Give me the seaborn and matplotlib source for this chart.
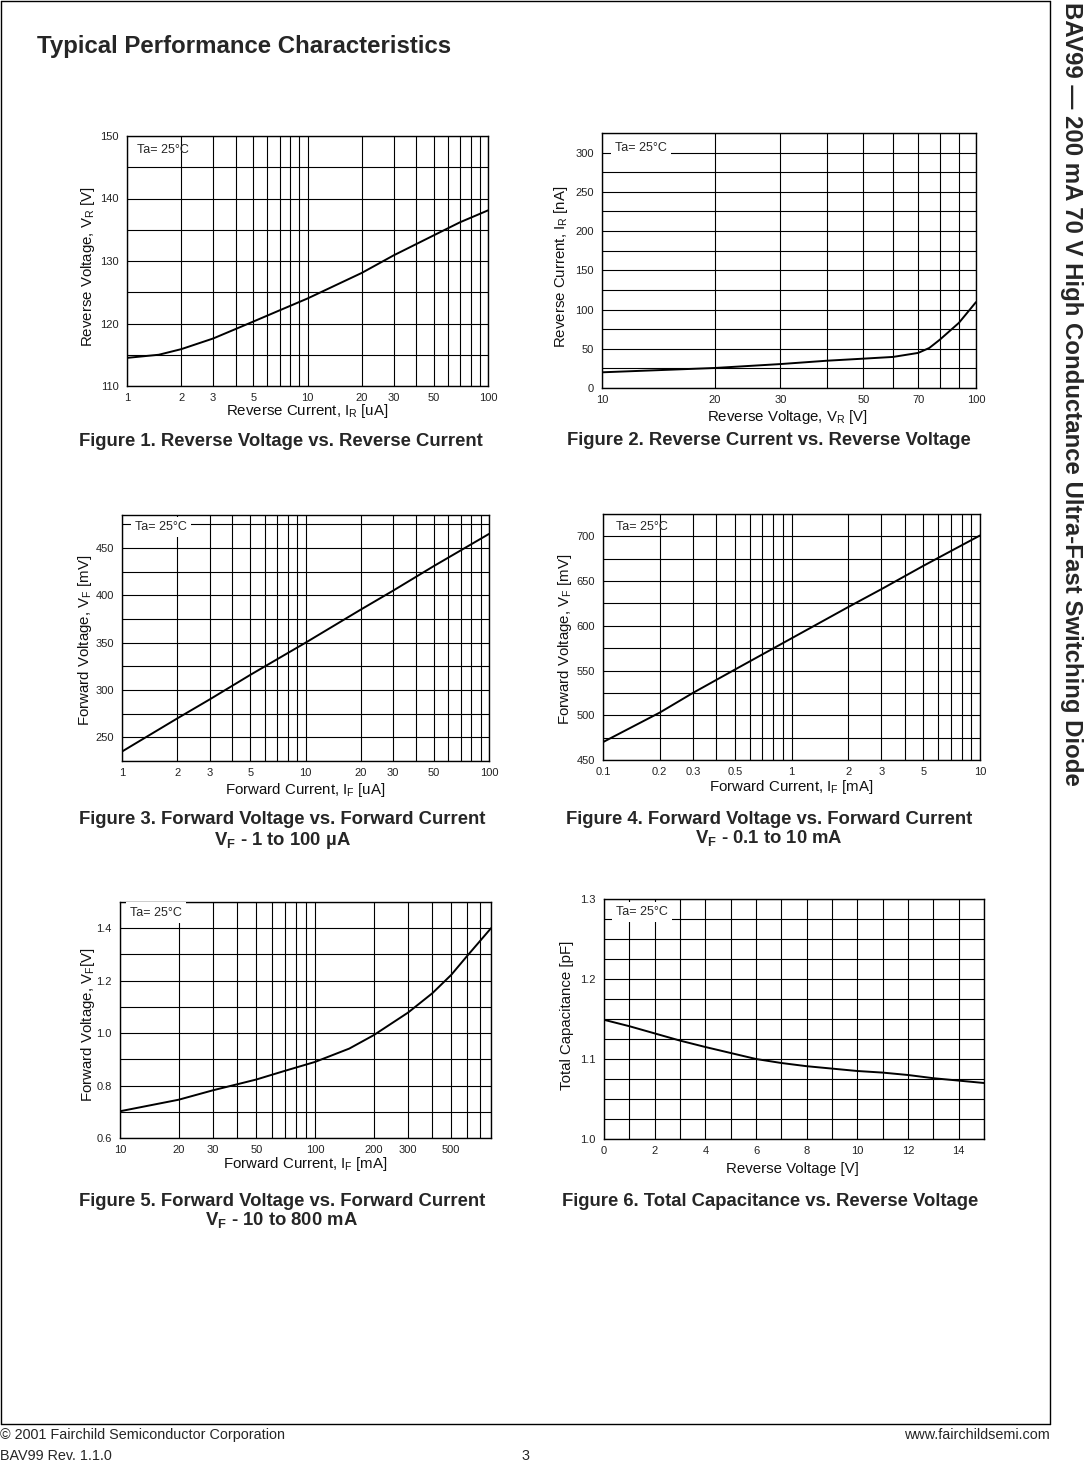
import matplotlib
matplotlib.use("Agg")
import matplotlib.pyplot as plt
import matplotlib.ticker as mticker
from matplotlib.lines import Line2D
import seaborn as sns

# --- data ---
fig1_ir = [1, 1.5, 2, 3, 5, 7, 10, 20, 30, 50, 70, 100]
fig1_vr = [114.5, 115.0, 115.9, 117.6, 120.3, 122.1, 124.0, 128.1, 130.9, 134.1, 136.2, 138.1]

fig2_vr = [10, 20, 30, 40, 50, 60, 70, 75, 80, 90, 100]
fig2_ir = [20, 25.5, 30.5, 34.8, 37.4, 39.6, 44.7, 51, 61.5, 83, 109.5]

fig3_if = [1, 2, 3, 5, 10, 20, 30, 50, 100]
fig3_vf = [235, 270, 290, 316, 350, 385, 405, 431, 465]

fig4_if = [0.1, 0.2, 0.3, 0.5, 1, 2, 3, 5, 10]
fig4_vf = [470, 503, 525, 551, 586, 621, 641, 667, 701]

fig5_if = [10, 20, 30, 40, 50, 70, 100, 150, 200, 300, 400, 500, 600, 800]
fig5_vf = [0.702, 0.746, 0.782, 0.805, 0.823, 0.856, 0.890, 0.941, 0.992,
           1.078, 1.152, 1.222, 1.292, 1.400]

fig6_vr = [0, 1, 2, 3, 4, 5, 6, 7, 8, 9, 10, 11, 12, 13, 14, 15]
fig6_ct = [1.149, 1.141, 1.132, 1.123, 1.115, 1.1075, 1.100, 1.095, 1.091,
           1.088, 1.085, 1.083, 1.080, 1.076, 1.073, 1.070]

# tick labels
fig1_xt = [1, 2, 3, 5, 10, 20, 30, 50, 100]
fig2_xt = [10, 20, 30, 50, 70, 100]
fig3_xt = [1, 2, 3, 5, 10, 20, 30, 50, 100]
fig4_xt = [0.1, 0.2, 0.3, 0.5, 1, 2, 3, 5, 10]
fig5_xt = [10, 20, 30, 50, 100, 200, 300, 500]
fig6_xt = [0, 2, 4, 6, 8, 10, 12, 14]

sns.set_theme(style="white")
plt.rcParams['font.family'] = ['Liberation Sans', 'DejaVu Sans']
plt.rcParams['mathtext.fontset'] = 'custom'
plt.rcParams['mathtext.rm'] = 'Liberation Sans'
plt.rcParams['mathtext.it'] = 'Liberation Sans:italic'
plt.rcParams['mathtext.bf'] = 'Liberation Sans:bold'
plt.rcParams['mathtext.default'] = 'regular'

W, H = 1086, 1462
fig = plt.figure(figsize=(W / 100, H / 100), dpi=100)
fig.patch.set_facecolor('white')


def fx(x):
    return x / W


def fy(y):
    return 1 - y / H


def log_minor(lo, hi):
    out = []
    dec = lo
    while dec < hi:
        out += [m * dec for m in range(1, 10)]
        dec *= 10
    return [v for v in out if lo <= v <= hi]


def panel(box, x, y, log, xlim, ylim, xt, xminor, yt, ystep, yfmt,
          xlabel, ylabel, xl_pos, yl_pos, ta_pos, ta_box):
    l, t, r, b = box
    ax = fig.add_axes([fx(l), fy(b), (r - l) / W, (b - t) / H])
    sns.lineplot(x=x, y=y, ax=ax, color='black', linewidth=1.4,
                 estimator=None, sort=False, zorder=4)
    if log:
        ax.set_xscale('log')
    ax.set_xlim(xlim)
    ax.set_ylim(ylim)
    ax.xaxis.set_major_locator(mticker.FixedLocator(xt))
    ax.xaxis.set_major_formatter(mticker.FixedFormatter([f"{v:g}" for v in xt]))
    ax.xaxis.set_minor_locator(mticker.FixedLocator(xminor))
    ax.xaxis.set_minor_formatter(mticker.NullFormatter())
    ax.yaxis.set_major_locator(mticker.FixedLocator(yt))
    ax.yaxis.set_major_formatter(mticker.FormatStrFormatter(yfmt))
    ax.yaxis.set_minor_locator(mticker.MultipleLocator(ystep))
    ax.grid(True, which='both', color='black', linewidth=0.8)
    ax.tick_params(axis='x', which='both', length=2, width=0.8, pad=3,
                   labelsize=8, colors='#222222', direction='out')
    ax.tick_params(axis='y', which='both', length=0, pad=6,
                   labelsize=8, colors='#222222')
    for s in ax.spines.values():
        s.set_color('black')
        s.set_linewidth(1.0)
    ax.set_xlabel(xlabel, fontsize=10.8, color='#111111', va='center')
    ax.set_ylabel(ylabel, fontsize=10.8, color='#111111', va='center')
    ax.xaxis.set_label_coords(*xl_pos)
    ax.yaxis.set_label_coords(*yl_pos)
    bbox = dict(facecolor='white', edgecolor='none', pad=3) if ta_box else None
    ax.text(ta_pos[0], ta_pos[1], 'Ta= 25°C', transform=ax.transAxes,
            fontsize=9, va='center', ha='left', bbox=bbox, zorder=5)
    return ax


panel((127, 136, 488, 386), fig1_ir, fig1_vr, True, (1, 100), (110, 150),
      fig1_xt, log_minor(1, 100), [110, 120, 130, 140, 150], 5, '%d',
      r'Reverse Current, I$_R$ [uA]', r'Reverse Voltage, V$_R$ [V]',
      (0.5, -0.10), (-0.108, 0.476), (0.028, 0.944), False)

panel((602, 133, 976, 388), fig2_vr, fig2_ir, True, (10, 100), (0, 325),
      fig2_xt, log_minor(10, 100), [0, 50, 100, 150, 200, 250, 300], 25, '%d',
      r'Reverse Voltage, V$_R$ [V]', r'Reverse Current, I$_R$ [nA]',
      (0.497, -0.114), (-0.11, 0.475), (0.035, 0.942), True)

panel((122, 515, 489, 761), fig3_if, fig3_vf, True, (1, 100), (225, 485),
      fig3_xt, log_minor(1, 100), [250, 300, 350, 400, 450], 25, '%d',
      r'Forward Current, I$_F$ [uA]', r'Forward Voltage, V$_F$ [mV]',
      (0.5, -0.118), (-0.10, 0.49), (0.035, 0.951), True)

panel((603, 514, 980, 760), fig4_if, fig4_vf, True, (0.1, 10), (450, 725),
      fig4_xt, log_minor(0.1, 10), [450, 500, 550, 600, 650, 700], 25, '%d',
      r'Forward Current, I$_F$ [mA]', r'Forward Voltage, V$_F$ [mV]',
      (0.5, -0.11), (-0.10, 0.49), (0.034, 0.948), False)

panel((120, 902, 491, 1138), fig5_if, fig5_vf, True, (10, 800), (0.6, 1.5),
      fig5_xt, log_minor(10, 800), [0.6, 0.8, 1.0, 1.2, 1.4], 0.1, '%.1f',
      r'Forward Current, I$_F$ [mA]', r'Forward Voltage, V$_F$[V]',
      (0.5, -0.11), (-0.086, 0.48), (0.027, 0.955), True)

panel((604, 899, 984, 1139), fig6_vr, fig6_ct, False, (0, 15), (1.0, 1.3),
      fig6_xt, list(range(0, 16)), [1.0, 1.1, 1.2, 1.3], 0.025, '%.1f',
      'Reverse Voltage [V]', 'Total Capacitance [pF]',
      (0.497, -0.125), (-0.097, 0.517), (0.032, 0.947), True)

# --- captions ---
cap = dict(fontsize=13.3, fontweight='bold', ha='center', va='center')
fig.text(fx(281), fy(441), 'Figure 1. Reverse Voltage vs. Reverse Current', **cap)
fig.text(fx(769), fy(440), 'Figure 2. Reverse Current vs. Reverse Voltage', **cap)
fig.text(fx(282), fy(820), 'Figure 3. Forward Voltage vs. Forward Current', **cap)
fig.text(fx(282), fy(840), r'$\mathbf{V_F}$ - 1 to 100 µA', **cap)
fig.text(fx(769), fy(819), 'Figure 4. Forward Voltage vs. Forward Current', **cap)
fig.text(fx(769), fy(838), r'$\mathbf{V_F}$ - 0.1 to 10 mA', **cap)
fig.text(fx(282), fy(1201), 'Figure 5. Forward Voltage vs. Forward Current', **cap)
fig.text(fx(282), fy(1220), r'$\mathbf{V_F}$ - 10 to 800 mA', **cap)
fig.text(fx(770), fy(1201), 'Figure 6. Total Capacitance vs. Reverse Voltage', **cap)

# --- page furniture ---
fig.text(fx(37), fy(46), 'Typical Performance Characteristics',
         fontsize=17.3, fontweight='bold', ha='left', va='center')
fig.text(fx(1071), fy(2), 'BAV99 — 200 mA 70 V High Conductance Ultra-Fast Switching Diode',
         fontsize=17.3, fontweight='bold', rotation=270, ha='center', va='top')

for xs, ys in [((1, 1), (1, 1424)), ((1, 1050), (1, 1)),
               ((1050, 1050), (1, 1424)), ((1, 1050), (1424, 1424))]:
    fig.add_artist(Line2D([fx(v) for v in xs], [fy(v) for v in ys],
                          color='black', linewidth=1.0))

foot = dict(fontsize=10.4, va='center')
fig.text(fx(0), fy(1435), '© 2001 Fairchild Semiconductor Corporation', ha='left', **foot)
fig.text(fx(1050), fy(1435), 'www.fairchildsemi.com', ha='right', **foot)
fig.text(fx(0), fy(1456), 'BAV99 Rev. 1.1.0', ha='left', **foot)
fig.text(fx(525), fy(1456), '3', ha='center', **foot)

fig.savefig('out.png', dpi=100, facecolor='white')
